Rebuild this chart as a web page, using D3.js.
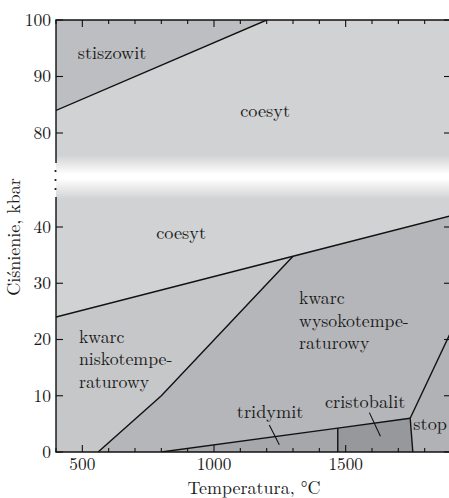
<!DOCTYPE html>
<html><head><meta charset="utf-8">
<script src="https://cdn.jsdelivr.net/npm/d3@7"></script>
<style>
html,body{margin:0;padding:0;background:#fff;}
svg{display:block;}
</style></head><body>
<svg id="chart" width="449" height="498"></svg>
<script>
// ---- data (temperature °C, pressure kbar) ----
const xTicksMajor = [500, 1000, 1500];
const xTicksMinor = [400,500,600,700,800,900,1000,1100,1200,1300,1400,1500,1600,1700,1800,1900];
const yTicksLower = [0, 10, 20, 30, 40];
const yTicksUpper = [80, 90, 100];

const stishoviteCoesite = [[400, 84], [1200, 100]];
const coesiteQuartz = [[400, 24], [1300, 34.8], [1900, 42]];
const lowHighQuartz = [[560, 0], [800, 10], [1300, 34.8]];
const tridymiteLine = [[800, 0], [1470, 4.25], [1745, 6]];
const tridymiteCristobalite = [[1470, 0], [1470, 4.25]];
const cristobaliteLiquid = [[1755, 0], [1745, 6]];
const quartzLiquid = [[1745, 6], [1900, 21.4]];

const phaseNames = ["stiszowit", "coesyt", "coesyt", "kwarc niskotempe-raturowy", "kwarc wysokotempe-raturowy", "tridymit", "cristobalit", "stop"];

// ---- layout ----
const svg = d3.select("#chart");
const FONT = '"Latin Modern Roman", "Liberation Serif", serif';
const L = 56, R = 451, T = 20, B = 452;
const x = d3.scaleLinear().domain([400, 1900]).range([L, R]);
const yLo = d3.scaleLinear().domain([0, 40]).range([B, 227]);
const yUp = d3.scaleLinear().domain([80, 100]).range([133, T]);

const col = {
  coesite: "#d1d2d4", stish: "#bdbec1", lowQ: "#c6c7c9", highQ: "#b5b6b9",
  trid: "#a6a7aa", crist: "#97989b", liquid: "#b1b2b5"
};

const lineLo = d3.line().x(d => x(d[0])).y(d => yLo(d[1]));
const lineUp = d3.line().x(d => x(d[0])).y(d => yUp(d[1]));

const defs = svg.append("defs");
defs.append("clipPath").attr("id", "clip")
  .append("rect").attr("x", L).attr("y", T).attr("width", R - L).attr("height", B - T);
const plot = svg.append("g").attr("clip-path", "url(#clip)");

plot.append("rect").attr("x", L).attr("y", T).attr("width", R - L).attr("height", B - T).attr("fill", col.coesite);

// polygons
const stishPoly = [[400, 100], ...stishoviteCoesite];
plot.append("path").attr("d", lineUp(stishPoly) + "Z").attr("fill", col.stish);

const lowQPoly = [[400, 0], coesiteQuartz[0], coesiteQuartz[1], lowHighQuartz[1], lowHighQuartz[0]];
plot.append("path").attr("d", lineLo(lowQPoly) + "Z").attr("fill", col.lowQ);

const highQPoly = [lowHighQuartz[0], lowHighQuartz[1], coesiteQuartz[1], coesiteQuartz[2], quartzLiquid[1], quartzLiquid[0], tridymiteLine[0]];
plot.append("path").attr("d", lineLo(highQPoly) + "Z").attr("fill", col.highQ);

const tridPoly = [tridymiteLine[0], tridymiteLine[1], tridymiteCristobalite[0]];
plot.append("path").attr("d", lineLo(tridPoly) + "Z").attr("fill", col.trid);

const cristPoly = [tridymiteCristobalite[0], tridymiteCristobalite[1], tridymiteLine[2], cristobaliteLiquid[0]];
plot.append("path").attr("d", lineLo(cristPoly) + "Z").attr("fill", col.crist);

const liqPoly = [cristobaliteLiquid[0], cristobaliteLiquid[1], quartzLiquid[1], [1900, 0]];
plot.append("path").attr("d", lineLo(liqPoly) + "Z").attr("fill", col.liquid);

// boundary lines
const lineStyle = s => s.attr("fill", "none").attr("stroke", "#111").attr("stroke-width", 1.4);
plot.append("path").attr("d", lineUp(stishoviteCoesite)).call(lineStyle);
[coesiteQuartz, lowHighQuartz, tridymiteLine, tridymiteCristobalite, cristobaliteLiquid, quartzLiquid]
  .forEach(a => plot.append("path").attr("d", lineLo(a)).call(lineStyle));

// axis break gradient band
const grad = defs.append("linearGradient").attr("id", "band")
  .attr("x1", 0).attr("x2", 0).attr("y1", 0).attr("y2", 1);
grad.append("stop").attr("offset", "0%").attr("stop-color", "#fff").attr("stop-opacity", 0);
grad.append("stop").attr("offset", "44%").attr("stop-color", "#fff").attr("stop-opacity", 1);
grad.append("stop").attr("offset", "54%").attr("stop-color", "#fff").attr("stop-opacity", 1);
grad.append("stop").attr("offset", "100%").attr("stop-color", "#fff").attr("stop-opacity", 0);
plot.append("rect").attr("x", L).attr("y", 155).attr("width", R - L).attr("height", 44).attr("fill", "url(#band)");

// frame
const ax = svg.append("g").attr("stroke", "#111").attr("stroke-width", 1.4).attr("fill", "none");
ax.append("line").attr("x1", L - 0.7).attr("x2", R).attr("y1", T).attr("y2", T);
ax.append("line").attr("x1", L - 0.7).attr("x2", R).attr("y1", B).attr("y2", B);
ax.append("line").attr("x1", R).attr("x2", R).attr("y1", T).attr("y2", B);
ax.append("line").attr("x1", L).attr("x2", L).attr("y1", T).attr("y2", 163);
ax.append("line").attr("x1", L).attr("x2", L).attr("y1", 197).attr("y2", B);
[171, 180, 189].forEach(yy => svg.append("circle").attr("cx", L - 0.5).attr("cy", yy).attr("r", 1.1).attr("fill", "#111"));

// x ticks (inside, bottom and top)
const tk = svg.append("g").attr("stroke", "#111").attr("stroke-width", 1.1);
xTicksMinor.forEach(v => {
  const len = xTicksMajor.includes(v) ? 7 : 4;
  tk.append("line").attr("x1", x(v)).attr("x2", x(v)).attr("y1", B).attr("y2", B - len);
  tk.append("line").attr("x1", x(v)).attr("x2", x(v)).attr("y1", T).attr("y2", T + len);
});
// y ticks (inside, left and right)
yTicksLower.forEach(v => {
  tk.append("line").attr("x1", L).attr("x2", L + 7).attr("y1", yLo(v)).attr("y2", yLo(v));
  tk.append("line").attr("x1", R).attr("x2", R - 7).attr("y1", yLo(v)).attr("y2", yLo(v));
});
yTicksUpper.forEach(v => {
  tk.append("line").attr("x1", L).attr("x2", L + 7).attr("y1", yUp(v)).attr("y2", yUp(v));
  tk.append("line").attr("x1", R).attr("x2", R - 7).attr("y1", yUp(v)).attr("y2", yUp(v));
});

const txt = (sel, size) => sel.style("font-family", FONT).style("font-size", size + "px").style("fill", "#1a1a1a");

// tick labels
xTicksMajor.forEach(v => svg.append("text").attr("x", x(v)).attr("y", 470).attr("text-anchor", "middle").text(v).call(txt, 17.3));
yTicksLower.forEach(v => svg.append("text").attr("x", 51).attr("y", yLo(v)).attr("dy", "0.34em").attr("text-anchor", "end").text(v).call(txt, 17.5));
yTicksUpper.forEach(v => svg.append("text").attr("x", 51).attr("y", yUp(v)).attr("dy", "0.34em").attr("text-anchor", "end").text(v).call(txt, 17.5));

// axis titles
svg.append("text").attr("x", 254).attr("y", 494).attr("text-anchor", "middle").text("Temperatura, °C").call(txt, 18);
svg.append("text").attr("transform", "translate(20,237) rotate(-90)").attr("text-anchor", "middle").text("Ciśnienie, kbar").call(txt, 18);

// phase labels (one text element per line)
const addText = (tx, ty, lines, anchor, size) => {
  lines.forEach((s, i) => svg.append("text").attr("x", tx).attr("y", ty + i * 22.6)
    .attr("text-anchor", anchor).text(s).call(txt, size || 18.3));
};
addText(x(613), yUp(94.2) + 6, [phaseNames[0]], "middle");
addText(x(1194), yUp(83.7) + 5, [phaseNames[1]], "middle");
addText(x(875), yLo(38.8) + 5, [phaseNames[2]], "middle");
addText(x(487), yLo(20.3) + 5, ["kwarc", "niskotempe-", "raturowy"], "start", 17.8);
addText(x(1323), yLo(27.2) + 5, ["kwarc", "wysokotempe-", "raturowy"], "start", 17.8);
addText(x(1213), yLo(6.9) + 5, [phaseNames[5]], "middle");
addText(x(1574), yLo(8.7) + 5, [phaseNames[6]], "middle");
addText(x(1757), yLo(4.9) + 6, [phaseNames[7]], "start");

// leader lines
const leaders = [[[1210, 4.8], [1248, 1.3]], [[1590, 7.0], [1632, 2.8]]];
leaders.forEach(a => svg.append("path").attr("d", lineLo(a)).attr("stroke", "#111").attr("stroke-width", 1.1).attr("fill", "none"));
</script>
</body></html>
